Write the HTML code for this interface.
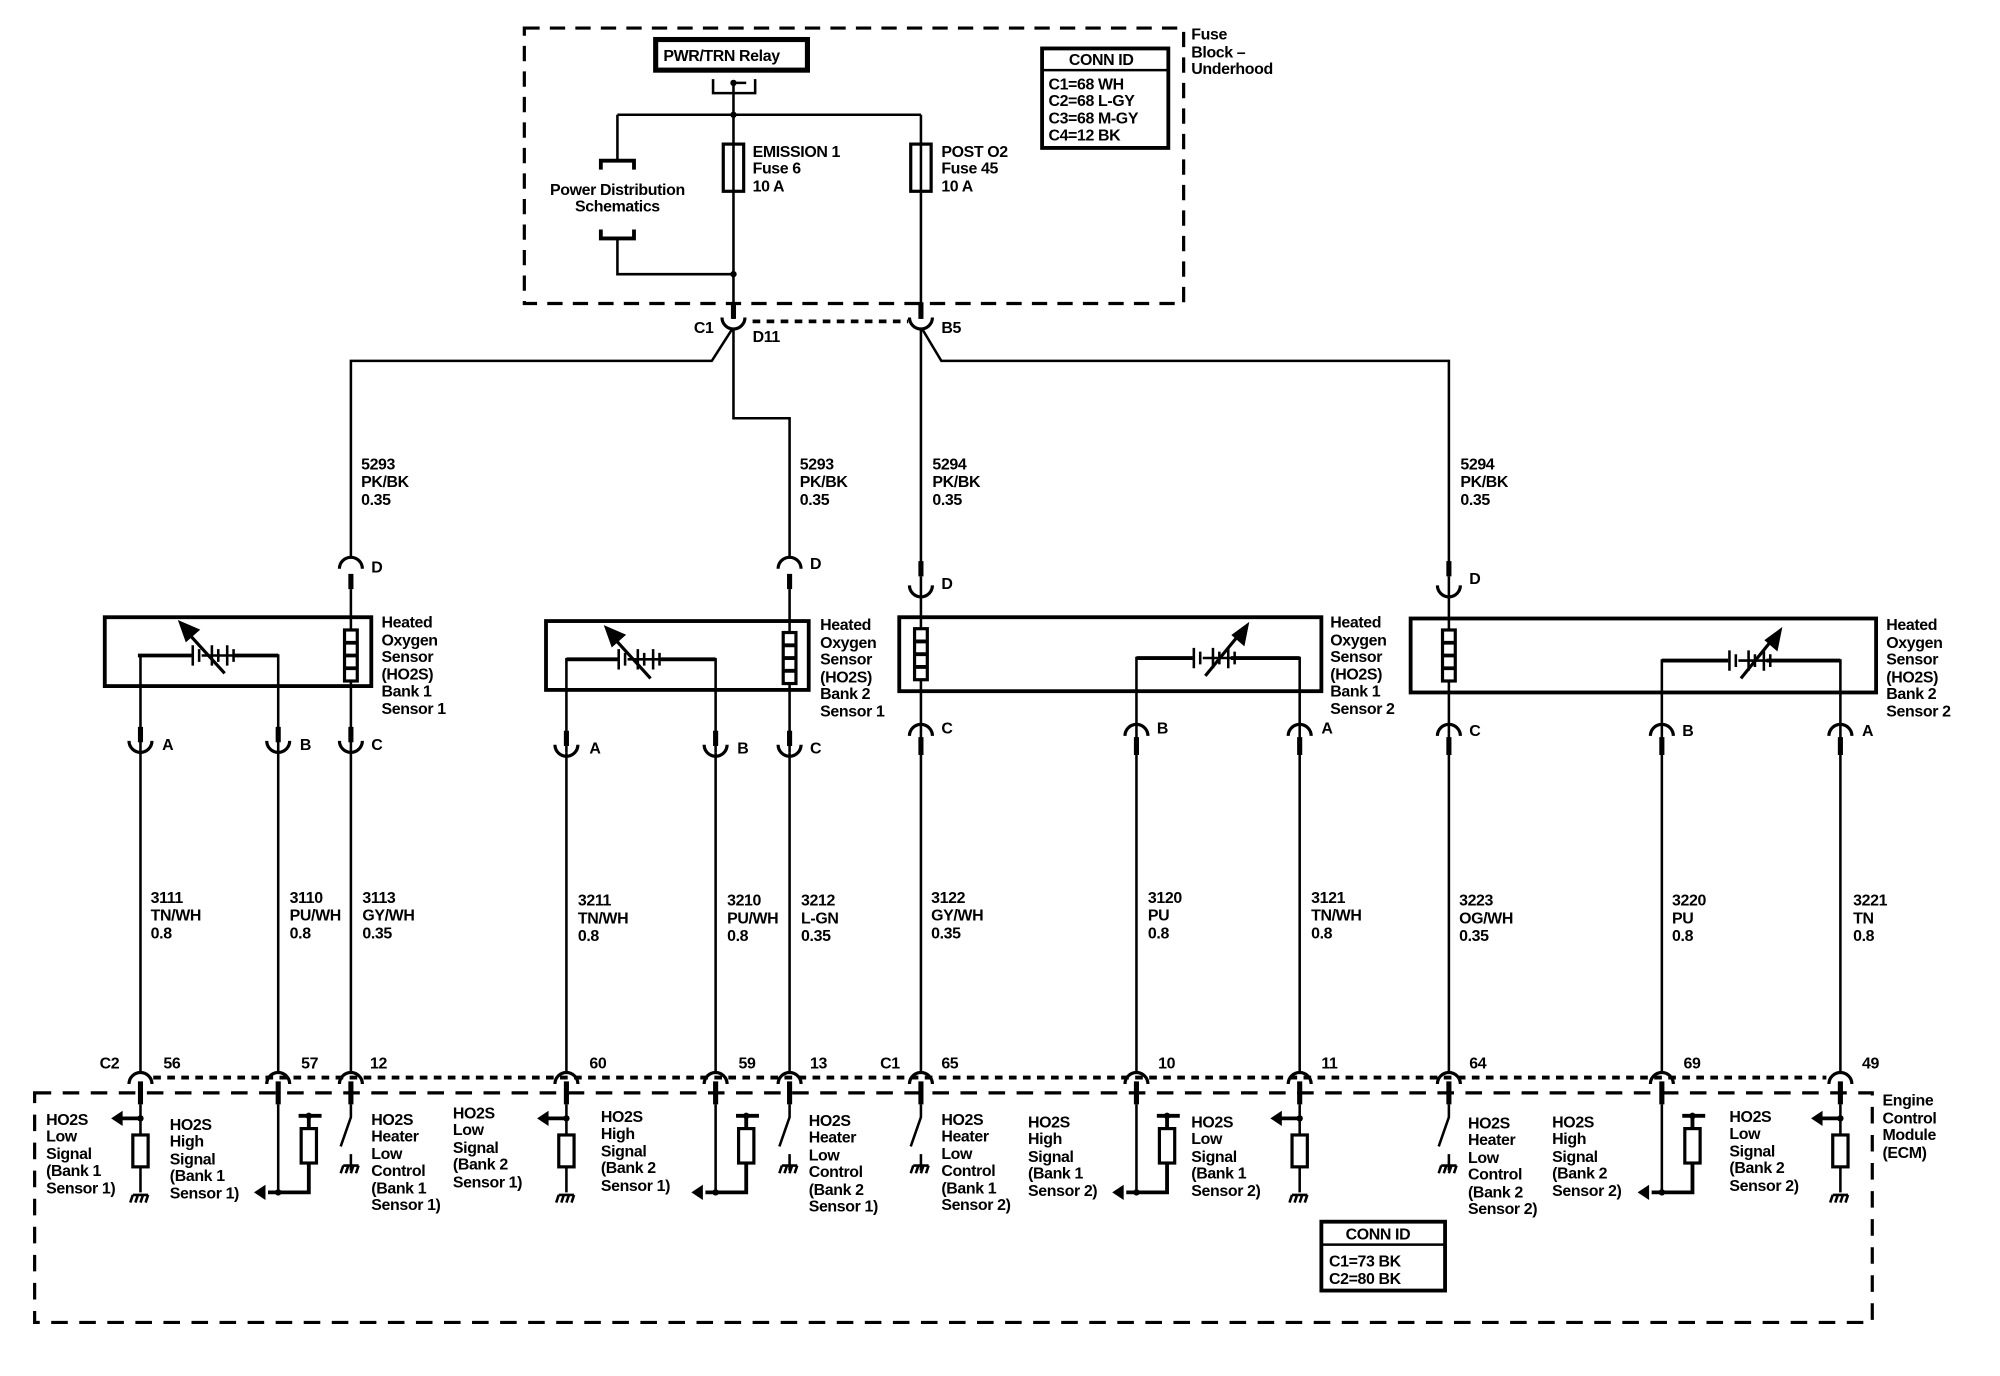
<!DOCTYPE html>
<html><head><meta charset="utf-8"><style>
html,body{margin:0;padding:0;background:#fff}
svg{display:block}
text{font-family:"Liberation Sans",Arial,sans-serif;font-size:12.5px;font-weight:bold;fill:#000;letter-spacing:-0.3px}
</style></head><body>
<svg width="2000" height="1376" viewBox="0 0 1568 1079" xmlns="http://www.w3.org/2000/svg">
<defs>
<g id="gnd"><path d="M-6 0H6M-6 0L-8 6M-2 0L-4 6M2 0L0 6M6 0L4 6" stroke="#000" stroke-width="2" fill="none"/></g>
<g id="heat"><rect x="-5" y="0" width="10" height="40" fill="#fff" stroke="#000" stroke-width="2.5"/><path d="M-5 10H5M-5 20H5M-5 30H5" stroke="#000" stroke-width="3"/></g>
</defs>
<g fill="none" stroke="#000" stroke-width="2">
<!-- Fuse block -->
<rect x="411" y="22" width="517" height="216" stroke-dasharray="12,8" stroke-width="2.5"/>
<rect x="514" y="31" width="119" height="24" stroke-width="4"/>
<path d="M559 62V73H592V62M575 65H585"/>
<path d="M575 65V250M484 90H722M484 90V126M722 90V250"/>
<path d="M471 133V126H497V133" stroke-width="3"/>
<path d="M471 180V187H497V180" stroke-width="3"/>
<path d="M484 187V215H575"/>
<rect x="567" y="113" width="16" height="37" stroke-width="2.5" fill="#fff"/>
<rect x="714" y="113" width="16" height="37" stroke-width="2.5" fill="#fff"/>
<path d="M575 113V150M722 113V150"/>
<rect x="817" y="38" width="99" height="78" stroke-width="3"/>
<path d="M817 55H916" stroke-width="2"/>
<!-- top connectors -->
<path d="M575 237V250M722 237V250" stroke-width="4"/>
<path d="M566 249A9 9 0 0 0 584 249M713 249A9 9 0 0 0 731 249" stroke-width="2.5"/>
<path d="M590 252H712" stroke-dasharray="6,5" stroke-width="3"/>
<path d="M574 258L558 283H275V437M575 258V328H619V437M722 258V450M723 258L738 283H1136V450"/>
<!-- D connectors -->
<path d="M266 446A9 9 0 0 1 284 446M610 446A9 9 0 0 1 628 446M713 459A9 9 0 0 0 731 459M1127 459A9 9 0 0 0 1145 459" stroke-width="2.5"/>
<path d="M275 450V462M619 450V462M722 440V452M1136 440V452" stroke-width="4"/>
<path d="M275 462V590M619 462V590M722 452V590M1136 452V590"/>
<!-- sensor boxes -->
<rect x="82" y="484" width="209" height="54" stroke-width="3"/>
<rect x="428" y="487" width="206" height="54" stroke-width="3"/>
<rect x="705" y="484" width="331" height="58" stroke-width="3"/>
<rect x="1106" y="485" width="365" height="58" stroke-width="3"/>
<!-- sensor elements -->
<path d="M110 590V514H150M158 514H218V590M444 590V517H484M492 517H561V590M891 590V516H935M943 516H1019V590M1303 590V518H1355M1363 518H1443V590" stroke-width="2"/>
<path d="M108 514H150M184 514H218M444 517H484M518 517H561M891 516H935M965 516H1019M1303 518H1355M1385 518H1443" stroke-width="3"/>
</g>
<g stroke="#000" stroke-width="2" fill="none">
<!-- battery symbols -->
<path d="M151 506V522M156 509V519M166 506V522M171 509V519M178 506V522M183 509V519"/>
<path d="M176 528L146 495" stroke-width="2.5"/><polygon points="141,488 155,494 146,502" fill="#000"/>
<path d="M485 509V525M490 512V522M500 509V525M505 512V522M512 509V525M517 512V522"/>
<path d="M510 532L480 499" stroke-width="2.5"/><polygon points="475,492 489,498 480,506" fill="#000"/>
<path d="M936 508V524M941 511V521M951 508V524M956 511V521M963 508V524M968 511V521"/>
<path d="M945 530L972 497" stroke-width="2.5"/><polygon points="978,490 975,505 967,498" fill="#000"/>
<path d="M1356 510V526M1361 513V523M1371 510V526M1376 513V523M1383 510V526M1388 513V523"/>
<path d="M1365 532L1390 501" stroke-width="2.5"/><polygon points="1396,494 1393,509 1385,502" fill="#000"/>
</g>
<use href="#heat" x="275" y="494"/><use href="#heat" x="619" y="496"/><use href="#heat" x="722" y="493"/><use href="#heat" x="1136" y="494"/>
<g stroke="#000" fill="none">
<!-- bottom sensor connectors (U type) -->
<path d="M110 570V582M218 570V582M275 570V582M444 573V585M561 573V585M619 573V585" stroke-width="4"/>
<path d="M101 581A9 9 0 0 0 119 581M209 581A9 9 0 0 0 227 581M266 581A9 9 0 0 0 284 581M435 584A9 9 0 0 0 453 584M552 584A9 9 0 0 0 570 584M610 584A9 9 0 0 0 628 584" stroke-width="2.5"/>
<path d="M713 577A9 9 0 0 1 731 577M882 577A9 9 0 0 1 900 577M1010 577A9 9 0 0 1 1028 577M1127 577A9 9 0 0 1 1145 577M1294 577A9 9 0 0 1 1312 577M1434 577A9 9 0 0 1 1452 577" stroke-width="2.5"/>
<path d="M722 578V592M891 578V592M1019 578V592M1136 578V592M1303 578V592M1443 578V592" stroke-width="4"/>
<path d="M110 590V840M218 590V840M275 590V840M444 590V840M561 590V840M619 590V840M722 590V840M891 590V840M1019 590V840M1136 590V840M1303 590V840M1443 590V840" stroke-width="2"/>
<!-- ECM connectors -->
<path d="M101 850A9 9 0 0 1 119 850M209 850A9 9 0 0 1 227 850M266 850A9 9 0 0 1 284 850M435 850A9 9 0 0 1 453 850M552 850A9 9 0 0 1 570 850M610 850A9 9 0 0 1 628 850M713 850A9 9 0 0 1 731 850M882 850A9 9 0 0 1 900 850M1010 850A9 9 0 0 1 1028 850M1127 850A9 9 0 0 1 1145 850M1294 850A9 9 0 0 1 1312 850M1434 850A9 9 0 0 1 1452 850" stroke-width="2.5"/>
<path d="M110 848V866M218 848V866M275 848V866M444 848V866M561 848V866M619 848V866M722 848V866M891 848V866M1019 848V866M1136 848V866M1303 848V866M1443 848V866" stroke-width="4"/>
<path d="M120 845H1432" stroke-dasharray="6,5" stroke-width="3"/>
<rect x="27" y="857" width="1441" height="180" stroke-dasharray="13,9" stroke-width="2.5"/>
<rect x="1036" y="958" width="97" height="54" stroke-width="3"/>
<path d="M1036 976H1133" stroke-width="2"/>
</g>
<!-- ECM internals: Low signal -->
<g stroke="#000" stroke-width="2" fill="none">
<path d="M110 866V935M444 866V935M1019 866V935M1443 866V935"/>
<path d="M110 877H94M444 877H428M1019 877H1003M1443 877H1427" stroke-width="3"/>
<rect x="104" y="890" width="12" height="25" fill="#fff" stroke-width="2.5"/>
<rect x="438" y="890" width="12" height="25" fill="#fff" stroke-width="2.5"/>
<rect x="1013" y="890" width="12" height="25" fill="#fff" stroke-width="2.5"/>
<rect x="1437" y="890" width="12" height="25" fill="#fff" stroke-width="2.5"/>
<!-- High signal -->
<path d="M218 866V935M561 866V935M891 866V935M1303 866V935"/>
<path d="M210 935H242V875M553 935H585V875M883 935H915V875M1295 935H1327V875" stroke-width="3"/>
<path d="M234 875H252M577 875H595M907 875H925M1319 875H1337" stroke-width="3"/>
<rect x="236" y="885" width="12" height="27" fill="#fff" stroke-width="2.5"/>
<rect x="579" y="885" width="12" height="27" fill="#fff" stroke-width="2.5"/>
<rect x="909" y="885" width="12" height="27" fill="#fff" stroke-width="2.5"/>
<rect x="1321" y="885" width="12" height="27" fill="#fff" stroke-width="2.5"/>
<!-- Heater low -->
<path d="M275 866V876L267 899M275 905V918M619 866V876L611 899M619 905V918M722 866V876L714 899M722 905V918M1136 866V876L1128 899M1136 905V918"/>
</g>
<g fill="#000">
<polygon points="87,877 96,871 96,883"/><polygon points="421,877 430,871 430,883"/><polygon points="996,877 1005,871 1005,883"/><polygon points="1420,877 1429,871 1429,883"/>
<polygon points="199,935 208,929 208,941"/><polygon points="542,935 551,929 551,941"/><polygon points="872,935 881,929 881,941"/><polygon points="1284,935 1293,929 1293,941"/>
<circle cx="110" cy="877" r="2.5"/><circle cx="444" cy="877" r="2.5"/><circle cx="1019" cy="877" r="2.5"/><circle cx="1443" cy="877" r="2.5"/>
<circle cx="218" cy="935" r="2.5"/><circle cx="561" cy="935" r="2.5"/><circle cx="891" cy="935" r="2.5"/><circle cx="1303" cy="935" r="2.5"/>
<circle cx="242" cy="875" r="2.5"/><circle cx="585" cy="875" r="2.5"/><circle cx="915" cy="875" r="2.5"/><circle cx="1327" cy="875" r="2.5"/>
<circle cx="575" cy="65" r="2.5"/><circle cx="575" cy="90" r="2.5"/><circle cx="575" cy="215" r="2.5"/>
</g>
<use href="#gnd" x="110" y="937"/><use href="#gnd" x="444" y="937"/><use href="#gnd" x="1019" y="937"/><use href="#gnd" x="1443" y="937"/>
<use href="#gnd" x="275" y="914"/><use href="#gnd" x="619" y="914"/><use href="#gnd" x="722" y="914"/><use href="#gnd" x="1136" y="914"/>

<!-- TEXT -->
<text x="520" y="48" font-size="12.5">PWR/TRN Relay</text>
<text x="934" y="31">Fuse</text><text x="934" y="45">Block –</text><text x="934" y="58">Underhood</text>
<text x="838" y="51">CONN ID</text>
<text x="822" y="70">C1=68 WH</text><text x="822" y="83">C2=68 L-GY</text><text x="822" y="97">C3=68 M-GY</text><text x="822" y="110">C4=12 BK</text>
<text x="484" y="153" text-anchor="middle">Power Distribution</text><text x="484" y="166" text-anchor="middle">Schematics</text>
<text x="590" y="123">EMISSION 1</text><text x="590" y="136">Fuse 6</text><text x="590" y="150">10 A</text>
<text x="738" y="123">POST O2</text><text x="738" y="136">Fuse 45</text><text x="738" y="150">10 A</text>
<text x="544" y="261">C1</text><text x="590" y="268">D11</text><text x="738" y="261">B5</text>
<text x="283" y="368">5293</text><text x="283" y="382">PK/BK</text><text x="283" y="396">0.35</text>
<text x="627" y="368">5293</text><text x="627" y="382">PK/BK</text><text x="627" y="396">0.35</text>
<text x="731" y="368">5294</text><text x="731" y="382">PK/BK</text><text x="731" y="396">0.35</text>
<text x="1145" y="368">5294</text><text x="1145" y="382">PK/BK</text><text x="1145" y="396">0.35</text>
<text x="291" y="449">D</text><text x="635" y="446">D</text><text x="738" y="462">D</text><text x="1152" y="458">D</text>
<g>
<text x="299" y="492">Heated</text><text x="299" y="506">Oxygen</text><text x="299" y="519">Sensor</text><text x="299" y="533">(HO2S)</text><text x="299" y="546">Bank 1</text><text x="299" y="560">Sensor 1</text>
<text x="643" y="494">Heated</text><text x="643" y="508">Oxygen</text><text x="643" y="521">Sensor</text><text x="643" y="535">(HO2S)</text><text x="643" y="548">Bank 2</text><text x="643" y="562">Sensor 1</text>
<text x="1043" y="492">Heated</text><text x="1043" y="506">Oxygen</text><text x="1043" y="519">Sensor</text><text x="1043" y="533">(HO2S)</text><text x="1043" y="546">Bank 1</text><text x="1043" y="560">Sensor 2</text>
<text x="1479" y="494">Heated</text><text x="1479" y="508">Oxygen</text><text x="1479" y="521">Sensor</text><text x="1479" y="535">(HO2S)</text><text x="1479" y="548">Bank 2</text><text x="1479" y="562">Sensor 2</text>
</g>
<text x="127" y="588">A</text><text x="235" y="588">B</text><text x="291" y="588">C</text>
<text x="462" y="591">A</text><text x="578" y="591">B</text><text x="635" y="591">C</text>
<text x="738" y="575">C</text><text x="907" y="575">B</text><text x="1036" y="575">A</text>
<text x="1152" y="577">C</text><text x="1319" y="577">B</text><text x="1460" y="577">A</text>
<g>
<text x="118" y="708">3111</text><text x="118" y="722">TN/WH</text><text x="118" y="736">0.8</text>
<text x="227" y="708">3110</text><text x="227" y="722">PU/WH</text><text x="227" y="736">0.8</text>
<text x="284" y="708">3113</text><text x="284" y="722">GY/WH</text><text x="284" y="736">0.35</text>
<text x="453" y="710">3211</text><text x="453" y="724">TN/WH</text><text x="453" y="738">0.8</text>
<text x="570" y="710">3210</text><text x="570" y="724">PU/WH</text><text x="570" y="738">0.8</text>
<text x="628" y="710">3212</text><text x="628" y="724">L-GN</text><text x="628" y="738">0.35</text>
<text x="730" y="708">3122</text><text x="730" y="722">GY/WH</text><text x="730" y="736">0.35</text>
<text x="900" y="708">3120</text><text x="900" y="722">PU</text><text x="900" y="736">0.8</text>
<text x="1028" y="708">3121</text><text x="1028" y="722">TN/WH</text><text x="1028" y="736">0.8</text>
<text x="1144" y="710">3223</text><text x="1144" y="724">OG/WH</text><text x="1144" y="738">0.35</text>
<text x="1311" y="710">3220</text><text x="1311" y="724">PU</text><text x="1311" y="738">0.8</text>
<text x="1453" y="710">3221</text><text x="1453" y="724">TN</text><text x="1453" y="738">0.8</text>
</g>
<g>
<text x="78" y="838">C2</text><text x="128" y="838">56</text><text x="236" y="838">57</text><text x="290" y="838">12</text>
<text x="462" y="838">60</text><text x="579" y="838">59</text><text x="635" y="838">13</text><text x="690" y="838">C1</text>
<text x="738" y="838">65</text><text x="908" y="838">10</text><text x="1036" y="838">11</text><text x="1152" y="838">64</text>
<text x="1320" y="838">69</text><text x="1460" y="838">49</text>
</g>
<g>
<text x="1476" y="867">Engine</text><text x="1476" y="881">Control</text><text x="1476" y="894">Module</text><text x="1476" y="908">(ECM)</text>
<text x="1055" y="972">CONN ID</text><text x="1042" y="993">C1=73 BK</text><text x="1042" y="1007">C2=80 BK</text>
<text x="36" y="882">HO2S</text><text x="36" y="895">Low</text><text x="36" y="909">Signal</text><text x="36" y="922">(Bank 1</text><text x="36" y="936">Sensor 1)</text>
<text x="133" y="886">HO2S</text><text x="133" y="899">High</text><text x="133" y="913">Signal</text><text x="133" y="926">(Bank 1</text><text x="133" y="940">Sensor 1)</text>
<text x="291" y="882">HO2S</text><text x="291" y="895">Heater</text><text x="291" y="909">Low</text><text x="291" y="922">Control</text><text x="291" y="936">(Bank 1</text><text x="291" y="949">Sensor 1)</text>
<text x="355" y="877">HO2S</text><text x="355" y="890">Low</text><text x="355" y="904">Signal</text><text x="355" y="917">(Bank 2</text><text x="355" y="931">Sensor 1)</text>
<text x="471" y="880">HO2S</text><text x="471" y="893">High</text><text x="471" y="907">Signal</text><text x="471" y="920">(Bank 2</text><text x="471" y="934">Sensor 1)</text>
<text x="634" y="883">HO2S</text><text x="634" y="896">Heater</text><text x="634" y="910">Low</text><text x="634" y="923">Control</text><text x="634" y="937">(Bank 2</text><text x="634" y="950">Sensor 1)</text>
<text x="738" y="882">HO2S</text><text x="738" y="895">Heater</text><text x="738" y="909">Low</text><text x="738" y="922">Control</text><text x="738" y="936">(Bank 1</text><text x="738" y="949">Sensor 2)</text>
<text x="806" y="884">HO2S</text><text x="806" y="897">High</text><text x="806" y="911">Signal</text><text x="806" y="924">(Bank 1</text><text x="806" y="938">Sensor 2)</text>
<text x="934" y="884">HO2S</text><text x="934" y="897">Low</text><text x="934" y="911">Signal</text><text x="934" y="924">(Bank 1</text><text x="934" y="938">Sensor 2)</text>
<text x="1151" y="885">HO2S</text><text x="1151" y="898">Heater</text><text x="1151" y="912">Low</text><text x="1151" y="925">Control</text><text x="1151" y="939">(Bank 2</text><text x="1151" y="952">Sensor 2)</text>
<text x="1217" y="884">HO2S</text><text x="1217" y="897">High</text><text x="1217" y="911">Signal</text><text x="1217" y="924">(Bank 2</text><text x="1217" y="938">Sensor 2)</text>
<text x="1356" y="880">HO2S</text><text x="1356" y="893">Low</text><text x="1356" y="907">Signal</text><text x="1356" y="920">(Bank 2</text><text x="1356" y="934">Sensor 2)</text>
</g>
</svg>
</body></html>
